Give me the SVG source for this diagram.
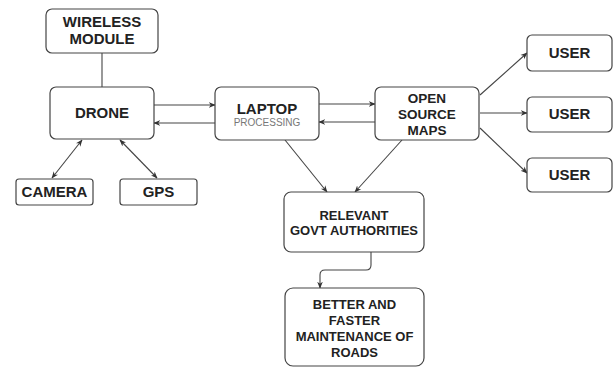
<svg xmlns="http://www.w3.org/2000/svg" width="614" height="367" viewBox="0 0 614 367">
<style>
.box{fill:#fff;stroke:#444;stroke-width:1.2}
.t{font-family:"Liberation Sans",Arial,sans-serif;font-weight:bold;fill:#222;text-anchor:middle}
.f15{font-size:15px}
.f13{font-size:13px}
.sub{font-family:"Liberation Sans",Arial,sans-serif;font-size:10px;fill:#777;text-anchor:middle}
.c{fill:none;stroke:#444;stroke-width:1.1}
</style>
<defs>
<marker id="ah" viewBox="0 0 10 10" refX="9" refY="5" markerWidth="7" markerHeight="7" orient="auto-start-reverse" markerUnits="userSpaceOnUse">
<path d="M0,1 L10,5 L0,9 L3,5 Z" fill="#333"/>
</marker>
</defs>
<rect width="614" height="367" fill="#fff"/>
<g id="connectors">
<line class="c" x1="102" y1="53" x2="102" y2="87"/>
<line class="c" x1="154" y1="105" x2="215" y2="105" marker-end="url(#ah)"/>
<line class="c" x1="215" y1="123" x2="154" y2="123" marker-end="url(#ah)"/>
<line class="c" x1="82" y1="140" x2="52" y2="178" marker-start="url(#ah)" marker-end="url(#ah)"/>
<line class="c" x1="120" y1="140" x2="157" y2="178" marker-start="url(#ah)" marker-end="url(#ah)"/>
<line class="c" x1="319" y1="104" x2="375" y2="104" marker-end="url(#ah)"/>
<line class="c" x1="375" y1="122" x2="319" y2="122" marker-end="url(#ah)"/>
<line class="c" x1="480" y1="95" x2="527" y2="53" marker-end="url(#ah)"/>
<line class="c" x1="480" y1="113" x2="527" y2="113" marker-end="url(#ah)"/>
<line class="c" x1="480" y1="128" x2="527" y2="173" marker-end="url(#ah)"/>
<line class="c" x1="285" y1="140" x2="327" y2="192" marker-end="url(#ah)"/>
<line class="c" x1="402" y1="140" x2="355" y2="192" marker-end="url(#ah)"/>
<path class="c" d="M371,252 V265 Q371,270 366,270 H325 Q320,270 320,275 V288" marker-end="url(#ah)"/>
</g>
<g id="wireless"><rect class="box" x="46" y="9" width="112" height="44" rx="6"/>
<text class="t f15" x="102" y="27">WIRELESS</text><text class="t f15" x="102" y="44">MODULE</text></g>
<g id="drone"><rect class="box" x="50" y="87" width="104" height="52" rx="6"/>
<text class="t f15" x="102" y="118">DRONE</text></g>
<g id="camera"><rect class="box" x="16" y="179" width="77" height="26" rx="3"/>
<text class="t f15" x="54.5" y="197">CAMERA</text></g>
<g id="gps"><rect class="box" x="120" y="179" width="77" height="26" rx="3"/>
<text class="t f15" x="158.5" y="197">GPS</text></g>
<g id="laptop"><rect class="box" x="215" y="87" width="104" height="53" rx="6"/>
<text class="t f15" x="267" y="114">LAPTOP</text><text class="sub" x="267" y="126">PROCESSING</text></g>
<g id="osm"><rect class="box" x="375" y="87" width="104" height="53" rx="6"/>
<text class="t" style="font-size:13.5px" x="427" y="103">OPEN</text>
<text class="t" style="font-size:13.5px" x="427" y="119">SOURCE</text>
<text class="t" style="font-size:13.5px" x="427" y="135">MAPS</text></g>
<g id="user1"><rect class="box" x="527" y="35" width="85" height="36" rx="5"/>
<text class="t f15" x="569.5" y="58">USER</text></g>
<g id="user2"><rect class="box" x="527" y="97" width="85" height="35" rx="5"/>
<text class="t f15" x="569.5" y="119">USER</text></g>
<g id="user3"><rect class="box" x="527" y="158" width="85" height="34" rx="5"/>
<text class="t f15" x="569.5" y="180">USER</text></g>
<g id="govt"><rect class="box" x="284" y="192" width="140" height="60" rx="7"/>
<text class="t f13" x="354" y="220">RELEVANT</text>
<text class="t f13" x="354" y="235">GOVT AUTHORITIES</text></g>
<g id="better"><rect class="box" x="285" y="288" width="139" height="78" rx="8"/>
<text class="t f13" x="354.5" y="309">BETTER AND</text>
<text class="t f13" x="354.5" y="325">FASTER</text>
<text class="t f13" x="354.5" y="341">MAINTENANCE OF</text>
<text class="t f13" x="354.5" y="357">ROADS</text></g>
</svg>
